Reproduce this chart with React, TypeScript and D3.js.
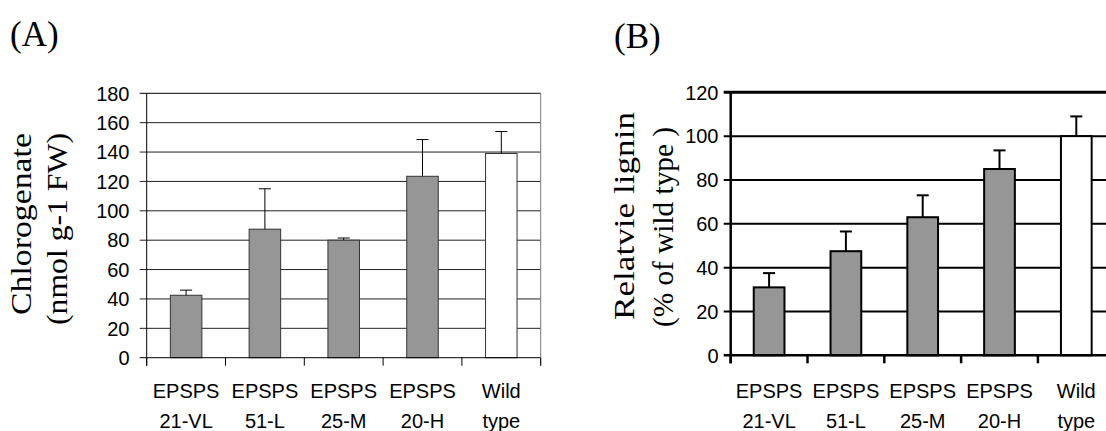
import React, { useRef, useEffect } from "react";
import * as d3 from "d3";

const categories = ["EPSPS 21-VL", "EPSPS 51-L", "EPSPS 25-M", "EPSPS 20-H", "Wild type"];
const labelLines = [
  ["EPSPS", "21-VL"],
  ["EPSPS", "51-L"],
  ["EPSPS", "25-M"],
  ["EPSPS", "20-H"],
  ["Wild", "type"],
];
const chlorogenate = [42.5, 87.5, 80, 123.5, 139];
const chlorogenateErr = [3.5, 27.5, 1.5, 25, 15];
const lignin = [31, 47.5, 63, 85, 100];
const ligninErr = [6.5, 9, 10, 8.5, 9];
const ticksA = [0, 20, 40, 60, 80, 100, 120, 140, 160, 180];
const ticksB = [0, 20, 40, 60, 80, 100, 120];

const SANS = "'Liberation Sans', Arial, sans-serif";
const SERIF = "'Liberation Serif', 'Times New Roman', serif";

const App = () => {
  const ref = useRef<SVGSVGElement>(null);

  useEffect(() => {
    document.body.style.margin = "0";
    const svg = d3.select(ref.current);
    svg.selectAll("*").remove();

    const panel = (opts: any) => {
      const {
        values, errors, ticks, yMax, left, right, top, bottom,
        gridColor, gridWidth, topWidth, axisWidth, barStroke, barStrokeWidth,
        tickLabelRight, titleLines, titleX, titleFont, titleLen, titleY,
        label, labelX, labelY, rightBorder,
      } = opts;
      const g = svg.append("g");

      const x = d3.scaleBand().domain(categories).range([left, right]).padding(0);
      const y = d3.scaleLinear().domain([0, yMax]).range([bottom, top]);
      const barW = x.bandwidth() * 0.4;

      // grid lines
      g.append("g")
        .selectAll("line")
        .data(ticks.filter((t: number) => t > 0))
        .join("line")
        .attr("x1", left - 7)
        .attr("x2", right)
        .attr("y1", (d: number) => y(d))
        .attr("y2", (d: number) => y(d))
        .attr("stroke", (d: number) => (d === yMax ? "#000" : gridColor))
        .attr("stroke-width", (d: number) => (d === yMax ? topWidth : gridWidth));

      // bars
      g.append("g")
        .selectAll("rect")
        .data(values)
        .join("rect")
        .attr("x", (d: number, i: number) => x(categories[i])! + x.bandwidth() / 2 - barW / 2)
        .attr("y", (d: number) => y(d))
        .attr("width", barW)
        .attr("height", (d: number) => y(0) - y(d))
        .attr("fill", (d: number, i: number) => (i === 4 ? "#fff" : "#969696"))
        .attr("stroke", barStroke)
        .attr("stroke-width", barStrokeWidth);

      // error bars (upper only)
      const eb = g.append("g").attr("stroke", "#000").attr("stroke-width", barStrokeWidth);
      values.forEach((v: number, i: number) => {
        const cx = x(categories[i])! + x.bandwidth() / 2;
        eb.append("line").attr("x1", cx).attr("x2", cx).attr("y1", y(v)).attr("y2", y(v + errors[i]));
        eb.append("line").attr("x1", cx - 6).attr("x2", cx + 6).attr("y1", y(v + errors[i])).attr("y2", y(v + errors[i]));
      });

      // left axis
      g.append("line")
        .attr("x1", left).attr("x2", left)
        .attr("y1", top).attr("y2", bottom + 8)
        .attr("stroke", "#000").attr("stroke-width", axisWidth);
      // zero line
      g.append("line")
        .attr("x1", left - 7).attr("x2", right)
        .attr("y1", y(0)).attr("y2", y(0))
        .attr("stroke", "#000").attr("stroke-width", axisWidth);
      if (rightBorder) {
        g.append("line")
          .attr("x1", right).attr("x2", right)
          .attr("y1", top).attr("y2", bottom + 8)
          .attr("stroke", "#777").attr("stroke-width", 1);
      }
      // bottom ticks
      const edges = categories.map((c) => x(c)!).concat([right]);
      g.append("g")
        .selectAll("line")
        .data(edges)
        .join("line")
        .attr("x1", (d) => d).attr("x2", (d) => d)
        .attr("y1", bottom).attr("y2", bottom + 8)
        .attr("stroke", "#000").attr("stroke-width", axisWidth);

      // y tick labels
      g.append("g")
        .selectAll("text")
        .data(ticks)
        .join("text")
        .attr("x", tickLabelRight)
        .attr("y", (d: number) => y(d))
        .attr("dy", "0.36em")
        .attr("text-anchor", "end")
        .attr("font-family", SANS)
        .attr("font-size", 20)
        .text((d: number) => d);

      // x labels
      labelLines.forEach((lines, i) => {
        const cx = x(categories[i])! + x.bandwidth() / 2;
        lines.forEach((t, j) => {
          g.append("text")
            .attr("x", cx)
            .attr("y", 398 + j * 30)
            .attr("text-anchor", "middle")
            .attr("font-family", SANS)
            .attr("font-size", 20)
            .text(t);
        });
      });

      // y title
      titleLines.forEach((t: string, j: number) => {
        g.append("text")
          .attr("transform", `translate(${titleX[j]},${titleY[j]}) rotate(-90)`)
          .attr("text-anchor", "middle")
          .attr("font-family", SERIF)
          .attr("font-size", titleFont)
          .attr("textLength", titleLen[j])
          .attr("lengthAdjust", "spacingAndGlyphs")
          .text(t);
      });

      // panel label
      g.append("text")
        .attr("x", labelX)
        .attr("y", labelY)
        .attr("font-family", SERIF)
        .attr("font-size", 35)
        .text(label);
    };

    panel({
      values: chlorogenate, errors: chlorogenateErr, ticks: ticksA, yMax: 180,
      left: 146.7, right: 540.7, top: 93.3, bottom: 357.7,
      gridColor: "#222", gridWidth: 1, topWidth: 1, axisWidth: 1,
      barStroke: "#333", barStrokeWidth: 1, tickLabelRight: 129.5,
      titleLines: ["Chlorogenate", "(nmol g-1 FW)"], titleX: [31, 67], titleY: [224, 229],
      titleFont: 30, titleLen: [182, 192],
      label: "(A)", labelX: 10, labelY: 46, rightBorder: true,
    });

    panel({
      values: lignin, errors: ligninErr, ticks: ticksB, yMax: 120,
      left: 730.7, right: 1114.7, top: 92.3, bottom: 355.3,
      gridColor: "#000", gridWidth: 2, topWidth: 3, axisWidth: 2.5,
      barStroke: "#000", barStrokeWidth: 2, tickLabelRight: 718.5,
      titleLines: ["Relatvie lignin", "(% of wild type )"], titleX: [634, 673], titleY: [216, 227],
      titleFont: 29, titleLen: [208, 200],
      label: "(B)", labelX: 614, labelY: 48, rightBorder: false,
    });
  }, []);

  return (
    <svg
      ref={ref}
      width={1106}
      height={431}
      style={{ position: "absolute", left: 0, top: 0, background: "#fff", display: "block" }}
    ></svg>
  );
};

export default App;
